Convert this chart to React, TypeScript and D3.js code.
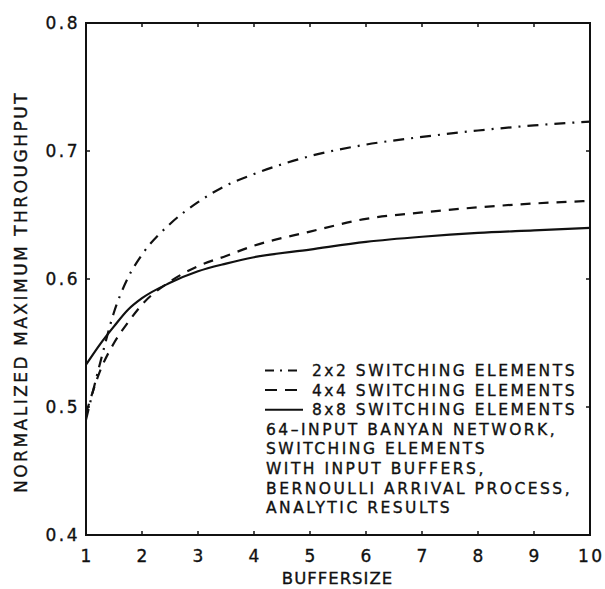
import React from "react";
import { scaleLinear, line, curveMonotoneX } from "d3";

// buffer sizes sampled along each curve
const bufferSizes = [1, 1.25, 1.5, 1.75, 2, 2.5, 3, 3.5, 4, 5, 6, 7, 8, 9, 10];
const se2x2 = [0.49, 0.534, 0.574, 0.601, 0.619, 0.643, 0.66, 0.673, 0.682, 0.696, 0.705, 0.711, 0.716, 0.72, 0.723];
const se4x4 = [0.495, 0.528, 0.55, 0.566, 0.58, 0.598, 0.61, 0.618, 0.626, 0.637, 0.647, 0.652, 0.656, 0.659, 0.661];
const se8x8 = [0.533, 0.549, 0.563, 0.576, 0.585, 0.597, 0.606, 0.612, 0.617, 0.623, 0.629, 0.633, 0.636, 0.638, 0.64];

const xTicks = [1, 2, 3, 4, 5, 6, 7, 8, 9, 10];
const yTicks = [0.4, 0.5, 0.6, 0.7, 0.8];
const seriesNames = ["2x2 SWITCHING ELEMENTS", "4x4 SWITCHING ELEMENTS", "8x8 SWITCHING ELEMENTS"];
const noteLines = [
  "64\u2013INPUT BANYAN NETWORK,",
  "SWITCHING ELEMENTS",
  "WITH INPUT BUFFERS,",
  "BERNOULLI ARRIVAL PROCESS,",
  "ANALYTIC RESULTS",
];

const font = "'DejaVu Sans', Verdana, sans-serif";
const ink = "#111";

export default function App() {
  const margin = { top: 23, right: 15, bottom: 54, left: 86 };
  const W = 605;
  const H = 589;
  const x = scaleLinear().domain([1, 10]).range([margin.left, W - margin.right]);
  const y = scaleLinear().domain([0.4, 0.8]).range([H - margin.bottom, margin.top]);

  const series = [
    { name: seriesNames[0], values: se2x2, dash: "11,7,2,7" },
    { name: seriesNames[1], values: se4x4, dash: "10,8" },
    { name: seriesNames[2], values: se8x8, dash: "" },
  ];

  const path = (vals: number[]) =>
    line<number>()
      .x((_, i) => x(bufferSizes[i]))
      .y((d) => y(d))
      .curve(curveMonotoneX)(vals) || "";

  const x0 = x(1), x1 = x(10), y0 = y(0.4), y1 = y(0.8);
  const legX = 265;
  const legY = 376; // baseline of first legend row
  const step = 19.6;
  const txt = { fontFamily: font, fill: ink, stroke: ink, strokeWidth: 0.35 };

  return (
    <svg width={W} height={H} style={{ position: "absolute", left: 0, top: 0 }}>
      <rect width={W} height={H} fill="#fff" />
      {series.map((s) => (
        <path key={s.name} d={path(s.values)} fill="none" stroke={ink} strokeWidth={2.2}
          strokeDasharray={s.dash || undefined} />
      ))}
      {/* frame */}
      <rect x={x0} y={y1} width={x1 - x0} height={y0 - y1} fill="none" stroke={ink} strokeWidth={2} />
      {xTicks.slice(1, -1).map((t) => (
        <g key={"x" + t}>
          <line x1={x(t)} x2={x(t)} y1={y0} y2={y0 - 4} stroke={ink} strokeWidth={1.5} />
          <line x1={x(t)} x2={x(t)} y1={y1} y2={y1 + 4} stroke={ink} strokeWidth={1.5} />
        </g>
      ))}
      {yTicks.slice(1, -1).map((t) => (
        <g key={"y" + t}>
          <line x1={x0} x2={x0 + 4} y1={y(t)} y2={y(t)} stroke={ink} strokeWidth={1.5} />
          <line x1={x1} x2={x1 - 4} y1={y(t)} y2={y(t)} stroke={ink} strokeWidth={1.5} />
        </g>
      ))}
      {xTicks.map((t) => (
        <text key={"xl" + t} x={x(t) + 1.2} y={y0 + 27} textAnchor="middle" fontSize={17}
          letterSpacing={2.5} {...txt}>{t}</text>
      ))}
      {yTicks.map((t) => (
        <text key={"yl" + t} x={x0 - 6} y={y(t) + 6} textAnchor="end" fontSize={17}
          letterSpacing={2.5} {...txt}>{t.toFixed(1)}</text>
      ))}
      <text x={(x0 + x1) / 2 - 0.5} y={584} textAnchor="middle" fontSize={16.5}
        letterSpacing={1} {...txt}>BUFFERSIZE</text>
      <text transform={`translate(27,${292}) rotate(-90)`} textAnchor="middle" fontSize={17}
        letterSpacing={2.5} {...txt}>
        NORMALIZED MAXIMUM THROUGHPUT
      </text>
      {/* legend */}
      {series.map((s, i) => (
        <g key={"lg" + i}>
          <line x1={legX} x2={legX + 38} y1={legY + i * step - 5.5} y2={legY + i * step - 5.5}
            stroke={ink} strokeWidth={2}
            strokeDasharray={i === 0 ? "9,6,2,6" : i === 1 ? "12,8" : undefined} />
          <text x={legX + 47} y={legY + i * step} fontSize={15.5} letterSpacing={2.5} {...txt}>
            {s.name}
          </text>
        </g>
      ))}
      {noteLines.map((t, i) => (
        <text key={"n" + i} x={legX + 1} y={legY + (i + 3) * step} fontSize={15.5}
          letterSpacing={2.5} {...txt}>{t}</text>
      ))}
    </svg>
  );
}
